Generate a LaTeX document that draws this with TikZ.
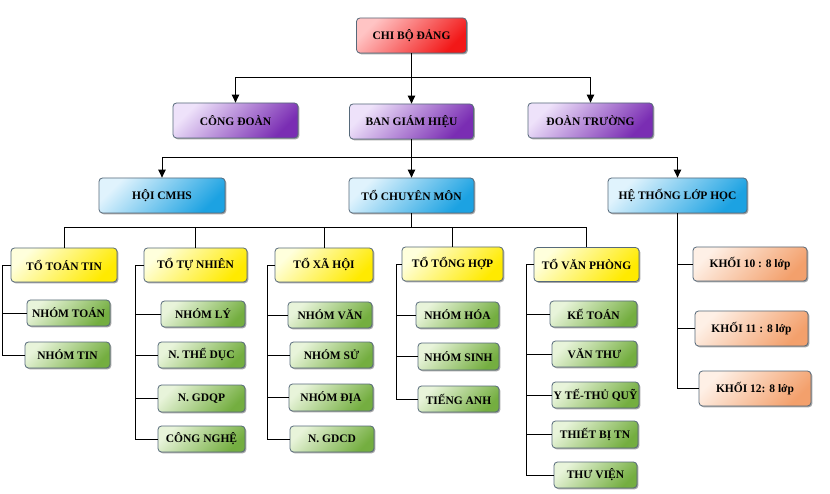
\documentclass[tikz,border=0pt]{standalone}
\usepackage{fontspec}
\setmainfont{Liberation Serif}
\usetikzlibrary{arrows.meta,shadows}
\definecolor{bordc}{HTML}{56697A}
\definecolor{redA}{HTML}{FFC4C4}
\definecolor{redB}{HTML}{F21818}
\definecolor{purA}{HTML}{EEE2FA}
\definecolor{purB}{HTML}{7A2DB3}
\definecolor{bluA}{HTML}{E0F3FD}
\definecolor{bluB}{HTML}{1CA2E2}
\definecolor{yelA}{HTML}{FFFFDC}
\definecolor{yelB}{HTML}{FFEA00}
\definecolor{grnA}{HTML}{E8F4DA}
\definecolor{grnB}{HTML}{74AE40}
\definecolor{orgA}{HTML}{FEF0E6}
\definecolor{orgB}{HTML}{F3A06C}
\tikzset{
  box/.style={draw=bordc, line width=0.8pt, rounded corners=3.5pt, inner sep=1pt,
    font=\bfseries\fontsize{11.5}{13}\selectfont, align=center, text=black,
    drop shadow={shadow xshift=1.3pt, shadow yshift=-1.3pt, opacity=0.35, fill=black}},
  redbox/.style={box, top color=redA, bottom color=redB, shading angle=45},
  purbox/.style={box, top color=purA, bottom color=purB, shading angle=45},
  blubox/.style={box, top color=bluA, bottom color=bluB, shading angle=45},
  yelbox/.style={box, top color=yelA, bottom color=yelB, shading angle=45},
  grnbox/.style={box, top color=grnA, bottom color=grnB, shading angle=45},
  orgbox/.style={box, top color=orgA, bottom color=orgB, shading angle=45},
  link/.style={draw=black, line width=0.9pt},
  arr/.style={link, -{Triangle[width=7.5pt,length=8pt]}}
}
\begin{document}
\begin{tikzpicture}[x=1pt,y=-1pt]
\fill[white] (0,0) rectangle (830,494);
\useasboundingbox (0,0) rectangle (830,494);

% level 0-1
\node[redbox, minimum width=110pt, minimum height=35pt] (cbd) at (411.5,35.5) {CHI BỘ ĐẢNG};
\node[purbox, minimum width=125pt, minimum height=35pt] (cd) at (235.5,120.5) {CÔNG ĐOÀN};
\node[purbox, minimum width=124pt, minimum height=35pt] (bgh) at (411.5,121.5) {BAN GIÁM HIỆU};
\node[purbox, minimum width=125pt, minimum height=35pt] (dt) at (590.5,120.5) {ĐOÀN TRƯỜNG};

% level 2
\node[blubox, minimum width=126pt, minimum height=35pt] (hoi) at (162,195.5) {HỘI CMHS};
\node[blubox, minimum width=125pt, minimum height=35pt] (tcm) at (411.5,195.5) {TỔ CHUYÊN MÔN};
\node[blubox, minimum width=139pt, minimum height=35pt] (hth) at (677.5,195.5) {HỆ THỐNG LỚP HỌC};

% level 3 (to)
\node[yelbox, minimum width=106pt, minimum height=34pt] (ttt) at (64,265) {TỔ TOÁN TIN};
\node[yelbox, minimum width=103pt, minimum height=34pt] (ttn) at (195.5,265) {TỔ TỰ NHIÊN};
\node[yelbox, minimum width=98pt, minimum height=34pt] (txh) at (324,265) {TỔ XÃ HỘI};
\node[yelbox, minimum width=101pt, minimum height=34pt] (tth) at (452.5,264) {TỔ TỔNG HỢP};
\node[yelbox, minimum width=105pt, minimum height=34pt] (tvp) at (586.5,264.5) {TỔ VĂN PHÒNG};

% groups
\node[grnbox, minimum width=83pt, minimum height=26pt] (ntoan) at (68.5,313) {NHÓM TOÁN};
\node[grnbox, minimum width=85pt, minimum height=26pt] (ntin) at (67.5,355) {NHÓM TIN};

\node[grnbox, minimum width=84pt, minimum height=26pt] (nly) at (203,314) {NHÓM LÝ};
\node[grnbox, minimum width=87pt, minimum height=26pt] (ntd) at (201.5,355) {N. THỂ DỤC};
\node[grnbox, minimum width=87pt, minimum height=27pt] (ngdqp) at (201.5,398.5) {N. GDQP};
\node[grnbox, minimum width=87pt, minimum height=26pt] (ncn) at (201.5,439) {CÔNG NGHỆ};

\node[grnbox, minimum width=84pt, minimum height=26pt] (nvan) at (330,315) {NHÓM VĂN};
\node[grnbox, minimum width=83pt, minimum height=26pt] (nsu) at (331.5,355) {NHÓM SỬ};
\node[grnbox, minimum width=84pt, minimum height=27pt] (ndia) at (331,397.5) {NHÓM ĐỊA};
\node[grnbox, minimum width=84pt, minimum height=26pt] (ngdcd) at (332,439) {N. GDCD};

\node[grnbox, minimum width=83pt, minimum height=26pt] (nhoa) at (457.5,315) {NHÓM HÓA};
\node[grnbox, minimum width=81pt, minimum height=27pt] (nsinh) at (458.5,356.5) {NHÓM SINH};
\node[grnbox, minimum width=81pt, minimum height=26pt] (ta) at (458.5,399) {TIẾNG ANH};

\node[grnbox, minimum width=87pt, minimum height=26pt] (kt) at (593.5,314) {KẾ TOÁN};
\node[grnbox, minimum width=85pt, minimum height=26pt] (vt) at (594.5,354) {VĂN THƯ};
\node[grnbox, minimum width=87pt, minimum height=26pt] (yt) at (595.5,395) {Y TẾ-THỦ QUỸ};
\node[grnbox, minimum width=86pt, minimum height=27pt] (tb) at (595,434.5) {THIẾT BỊ TN};
\node[grnbox, minimum width=83pt, minimum height=26pt] (tv) at (595.5,475) {THƯ VIỆN};

% khoi
\node[orgbox, minimum width=114pt, minimum height=34pt] (k10) at (750,264) {KHỐI 10 : 8 lớp};
\node[orgbox, minimum width=113pt, minimum height=35pt] (k11) at (751.5,328.5) {KHỐI 11 : 8 lớp};
\node[orgbox, minimum width=112pt, minimum height=35pt] (k12) at (755,388.5) {KHỐI 12: 8 lớp};

% junctions
\coordinate (j1) at (411.5,77);
\coordinate (j2) at (411.5,157);
\coordinate (j3) at (411.5,227);
\coordinate (tr1) at (2,0);
\coordinate (tr2) at (135,0);
\coordinate (tr3) at (267,0);
\coordinate (tr4) at (396,0);
\coordinate (tr5) at (526,0);

% top connectors
\draw[link] (cbd.south) -- (j1);
\draw[arr] (j1) -| (cd.north);
\draw[arr] (j1) -- (bgh.north);
\draw[arr] (j1) -| (dt.north);

\draw[link] (bgh.south) -- (j2);
\draw[arr] (j2) -| (hoi.north);
\draw[arr] (j2) -- (tcm.north);
\draw[arr] (j2) -| (hth.north);

\draw[link] (tcm.south) -- (j3);
\draw[link] (j3) -| (ttt.north);
\draw[link] (j3) -| (ttn.north);
\draw[link] (j3) -| (txh.north);
\draw[link] (j3) -| (tth.north);
\draw[link] (j3) -| (tvp.north);

% to toan tin
\draw[link] (ttt.west) -| (tr1 |- ntin.west) -- (ntin.west);
\draw[link] (tr1 |- ntoan.west) -- (ntoan.west);
% to tu nhien
\draw[link] (ttn.west) -| (tr2 |- ncn.west) -- (ncn.west);
\draw[link] (tr2 |- nly.west) -- (nly.west);
\draw[link] (tr2 |- ntd.west) -- (ntd.west);
\draw[link] (tr2 |- ngdqp.west) -- (ngdqp.west);
% to xa hoi
\draw[link] (txh.west) -| (tr3 |- ngdcd.west) -- (ngdcd.west);
\draw[link] (tr3 |- nvan.west) -- (nvan.west);
\draw[link] (tr3 |- nsu.west) -- (nsu.west);
\draw[link] (tr3 |- ndia.west) -- (ndia.west);
% to tong hop
\draw[link] (tth.west) -| (tr4 |- ta.west) -- (ta.west);
\draw[link] (tr4 |- nhoa.west) -- (nhoa.west);
\draw[link] (tr4 |- nsinh.west) -- (nsinh.west);
% to van phong
\draw[link] (tvp.west) -| (tr5 |- tv.west) -- (tv.west);
\draw[link] (tr5 |- kt.west) -- (kt.west);
\draw[link] (tr5 |- vt.west) -- (vt.west);
\draw[link] (tr5 |- yt.west) -- (yt.west);
\draw[link] (tr5 |- tb.west) -- (tb.west);
% he thong lop hoc
\draw[link] (hth.south) -- (hth.south |- k12.west) -- (k12.west);
\draw[link] (hth.south |- k10.west) -- (k10.west);
\draw[link] (hth.south |- k11.west) -- (k11.west);
\end{tikzpicture}
\end{document}
